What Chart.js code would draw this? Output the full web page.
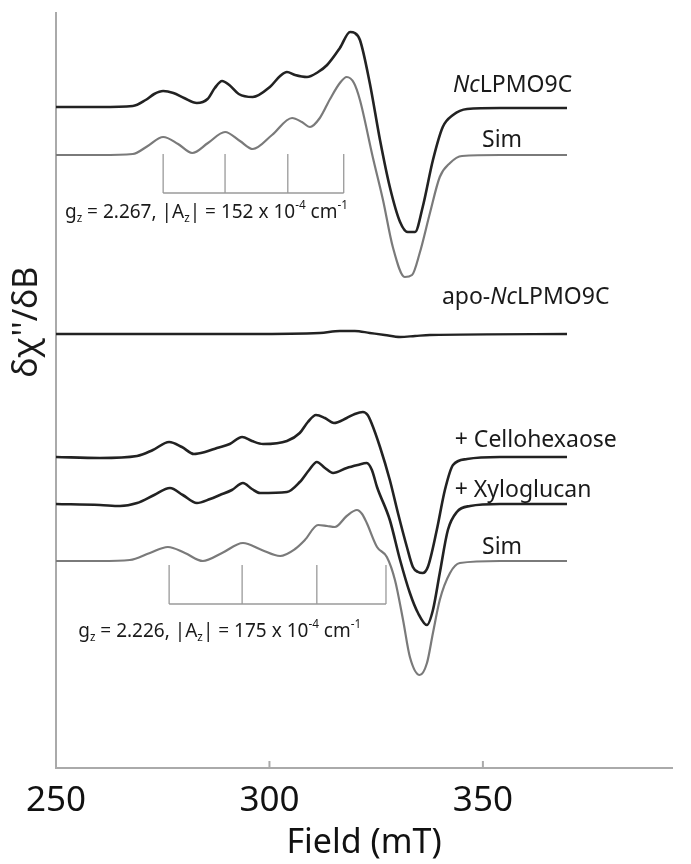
<!DOCTYPE html>
<html>
<head>
<meta charset="utf-8">
<script src="https://cdn.jsdelivr.net/npm/chart.js@4.4.1/dist/chart.umd.min.js"></script>
<style>
    html, body { margin: 0; padding: 0; background: #ffffff; }
    #wrap { width: 691px; height: 864px; }
</style>
</head>
<body>
<div id="wrap"><canvas id="eprChart" width="691" height="864"></canvas></div>
<script>
// =====================================
// DATA (field in mT, signal in arbitrary units)
// =====================================

const fieldTicks = [250, 300, 350];

// NcLPMO9C (measured)
const nativeField  = [250, 260.3, 268.0, 271.0, 273.0, 275.1, 277.5, 280.0, 283.0, 285.5, 287.2, 288.9, 290.6, 292.8, 296.1, 300.1, 302.5, 304.1, 306.0, 308.8, 311.4, 313.5, 316.5, 318.9, 320.0, 321.2, 323.5, 325.9, 328.2, 330.6, 332.4, 334.1, 335.9, 338.3, 340.6, 343.0, 346.3, 354.0, 369.7];
const nativeSignal = [0, 0, 1, 7, 13, 16, 14, 9, 4, 8, 19, 26, 22, 13, 10, 20, 31, 35, 32, 30, 35, 42, 59, 75, 74, 67, 24, -33, -80, -115, -125, -125, -100, -53, -20, -8, -2, -1, -1];

// NcLPMO9C simulation
const sim1Field  = [250, 260.3, 268.0, 271.5, 275.1, 278.6, 281.9, 285.6, 289.6, 293.1, 296.1, 300.6, 305.3, 307.6, 309.5, 311.8, 314.2, 316.5, 318.1, 319.8, 321.2, 324.2, 326.6, 328.9, 331.7, 333.4, 335.2, 337.6, 339.9, 342.3, 345.1, 354.0, 369.7];
const sim1Signal = [0, 0, 1, 9, 18, 11, 2, 12, 23, 14, 6, 20, 37, 33, 28, 37, 56, 72, 78, 72, 55, -2, -45, -92, -122, -120, -98, -58, -22, -8, -1, 0, 0];

// apo-NcLPMO9C
const apoField  = [250, 272.0, 295.4, 311.8, 316.5, 320.0, 323.5, 327.0, 330.6, 334.1, 337.6, 369.7];
const apoSignal = [0, 0, 0, 1, 3, 3, 1, -1, -3, -2, -1, 0];

// + Cellohexaose
const celloField  = [250, 260.3, 269.0, 272.7, 276.5, 279.5, 282.3, 284.9, 287.7, 290.7, 293.6, 295.9, 298.5, 304.1, 307.1, 309.0, 310.9, 313.0, 315.1, 318.1, 320.0, 321.9, 323.0, 323.9, 325.9, 328.2, 330.1, 332.2, 333.6, 334.8, 335.9, 337.1, 339.2, 341.1, 343.0, 346.3, 354.0, 369.7];
const celloSignal = [0, -1, 1, 7, 15, 10, 3, 5, 9, 13, 20, 16, 13, 16, 24, 35, 42, 39, 34, 39, 43, 45, 42, 34, 10, -23, -56, -90, -110, -115, -116, -110, -73, -33, -8, -2, 0, 0];

// + Xyloglucan
const xyloField  = [250, 260.3, 265.0, 269.0, 273.0, 276.7, 279.7, 283.0, 286.1, 288.4, 291.2, 293.8, 295.9, 297.8, 304.1, 307.1, 309.3, 311.1, 313.0, 314.9, 318.1, 320.7, 322.8, 324.0, 325.2, 328.2, 330.6, 332.9, 334.8, 336.9, 338.3, 339.9, 341.8, 343.9, 347.0, 354.0, 369.7];
const xyloSignal = [0, -1, -2, 1, 9, 16, 9, 1, 5, 9, 14, 21, 15, 11, 12, 22, 34, 42, 36, 31, 36, 39, 41, 34, 17, -16, -56, -89, -109, -121, -106, -69, -26, -8, -2, 0, 0];

// substrate-bound simulation
const sim2Field  = [250, 260.3, 267.3, 272.0, 276.2, 280.2, 284.4, 288.9, 293.8, 298.2, 302.5, 306.0, 308.3, 311.4, 313.5, 315.3, 318.1, 320.5, 321.7, 322.8, 325.2, 327.5, 329.4, 331.3, 332.9, 335.2, 336.9, 338.3, 339.9, 342.3, 344.6, 354.0, 369.7];
const sim2Signal = [0, 0, 1, 8, 14, 8, 0, 8, 18, 11, 5, 12, 21, 36, 35, 34, 45, 51, 47, 38, 14, 4, -19, -59, -96, -114, -102, -72, -39, -12, -2, 0, 0];

// vertical offsets of the stacked traces
const traceOffsets = {
    native: 661,
    sim1: 613,
    apo: 434,
    cello: 311,
    xylo: 264,
    sim2: 207
};

// hyperfine stick positions (mT)
const sticks1 = [275.1, 289.6, 304.3, 317.4];
const sticks2 = [276.5, 293.6, 311.1, 327.3];

// =====================================
// HELPERS
// =====================================

function toPoints(field, signal, offset) {
    return field.map((x, i) => ({ x: x, y: signal[i] + offset }));
}

function stickPoints(pos, top, bottom) {
    const pts = [];
    pos.forEach(p => {
        pts.push({ x: p, y: top });
        pts.push({ x: p, y: bottom });
        pts.push({ x: p, y: null });
    });
    pts.push({ x: pos[0], y: bottom });
    pts.push({ x: pos[pos.length - 1], y: bottom });
    return pts;
}

const FONT = '"Noto Sans", "Open Sans", sans-serif';

const BLACK = "#222222";
const GRAY = "#7a7a7a";

function trace(points, color, width) {
    return {
        data: points,
        borderColor: color,
        borderWidth: width,
        pointRadius: 0,
        cubicInterpolationMode: "monotone",
        fill: false
    };
}

// =====================================
// TEXT LABELS
// =====================================

const labels = [
    { x: 343.0, y: 683, size: 23, parts: [{ t: "Nc", s: "i" }, { t: "LPMO9C" }] },
    { x: 349.8, y: 628, size: 23, parts: [{ t: "Sim" }] },
    { x: 340.4, y: 471, size: 23, parts: [{ t: "apo-" }, { t: "Nc", s: "i" }, { t: "LPMO9C" }] },
    { x: 343.4, y: 328, size: 23, parts: [{ t: "+ Cellohexaose" }] },
    { x: 343.4, y: 278, size: 23, parts: [{ t: "+ Xyloglucan" }] },
    { x: 349.8, y: 221, size: 23, parts: [{ t: "Sim" }] },
    { x: 252.1, y: 555, size: 19, parts: [{ t: "g" }, { t: "z", s: "sub" }, { t: " = 2.267, |A" }, { t: "z", s: "sub" }, { t: "| = 152 x 10" }, { t: "-4", s: "sup" }, { t: " cm" }, { t: "-1", s: "sup" }] },
    { x: 255.2, y: 136, size: 19, parts: [{ t: "g" }, { t: "z", s: "sub" }, { t: " = 2.226, |A" }, { t: "z", s: "sub" }, { t: "| = 175 x 10" }, { t: "-4", s: "sup" }, { t: " cm" }, { t: "-1", s: "sup" }] }
];

function drawRich(ctx, parts, x, y, size) {
    let cx = x;
    parts.forEach(p => {
        let fs = size;
        let dy = 0;
        let style = "";
        if (p.s === "i") style = "italic ";
        if (p.s === "sub") { fs = size * 0.62; dy = size * 0.32; }
        if (p.s === "sup") { fs = size * 0.62; dy = -size * 0.38; }
        ctx.font = style + fs + "px " + FONT;
        ctx.fillText(p.t, cx, y + dy);
        cx += ctx.measureText(p.t).width;
    });
}

const textPlugin = {
    id: "eprText",
    afterDraw(chart) {
        const ctx = chart.ctx;
        const xs = chart.scales.x;
        const ys = chart.scales.y;
        ctx.save();
        ctx.fillStyle = "#1a1a1a";
        ctx.textBaseline = "middle";
        ctx.textAlign = "left";
        labels.forEach(l => {
            drawRich(ctx, l.parts, xs.getPixelForValue(l.x), ys.getPixelForValue(l.y), l.size);
        });

        // y axis title
        ctx.translate(27, 322);
        ctx.rotate(-Math.PI / 2);
        ctx.textAlign = "center";
        ctx.font = "34px " + FONT;
        ctx.fillText("\u03B4\u03C7''/\u03B4B", 0, 0);
        ctx.restore();

        // small inward ticks on the field axis
        ctx.save();
        ctx.strokeStyle = "#aaaaaa";
        ctx.lineWidth = 2;
        fieldTicks.slice(1).forEach(t => {
            const px = xs.getPixelForValue(t);
            ctx.beginPath();
            ctx.moveTo(px, xs.top);
            ctx.lineTo(px, xs.top - 7);
            ctx.stroke();
        });
        ctx.restore();
    }
};

// =====================================
// CHART
// =====================================

const ctx = document.getElementById("eprChart");

new Chart(ctx, {

    type: "line",

    data: {
        datasets: [
            trace(toPoints(nativeField, nativeSignal, traceOffsets.native), BLACK, 2.6),
            trace(toPoints(sim1Field, sim1Signal, traceOffsets.sim1), GRAY, 2.2),
            trace(toPoints(apoField, apoSignal, traceOffsets.apo), BLACK, 2.4),
            trace(toPoints(celloField, celloSignal, traceOffsets.cello), BLACK, 2.6),
            trace(toPoints(xyloField, xyloSignal, traceOffsets.xylo), BLACK, 2.6),
            trace(toPoints(sim2Field, sim2Signal, traceOffsets.sim2), GRAY, 2.2),
            {
                data: stickPoints(sticks1, 614, 575),
                borderColor: "#9a9a9a",
                borderWidth: 1.3,
                pointRadius: 0,
                tension: 0,
                spanGaps: false
            },
            {
                data: stickPoints(sticks2, 203, 164),
                borderColor: "#9a9a9a",
                borderWidth: 1.3,
                pointRadius: 0,
                tension: 0,
                spanGaps: false
            }
        ]
    },

    options: {
        responsive: false,
        animation: false,
        devicePixelRatio: 1,
        layout: {
            padding: { top: 13, right: 19, left: 0, bottom: 0 }
        },
        plugins: {
            legend: { display: false },
            tooltip: { enabled: false }
        },
        scales: {
            x: {
                type: "linear",
                min: 250,
                max: 394.3,
                afterBuildTicks: (scale) => {
                    scale.ticks = fieldTicks.map(v => ({ value: v }));
                },
                afterFit: (scale) => { scale.height = 96; },
                grid: { display: false, drawTicks: false },
                border: { color: "#aaaaaa", width: 2 },
                ticks: {
                    color: "#111111",
                    padding: 12,
                    maxRotation: 0,
                    font: { family: FONT, size: 35 }
                },
                title: {
                    display: true,
                    text: "Field (mT)",
                    color: "#111111",
                    padding: { top: 0, bottom: 0 },
                    font: { family: FONT, size: 34 }
                }
            },
            y: {
                type: "linear",
                min: 0,
                max: 755,
                afterFit: (scale) => { scale.width = 56; },
                grid: { display: false, drawTicks: false },
                border: { color: "#aaaaaa", width: 2 },
                ticks: { display: false }
            }
        }
    },

    plugins: [textPlugin]
});
</script>
</body>
</html>
